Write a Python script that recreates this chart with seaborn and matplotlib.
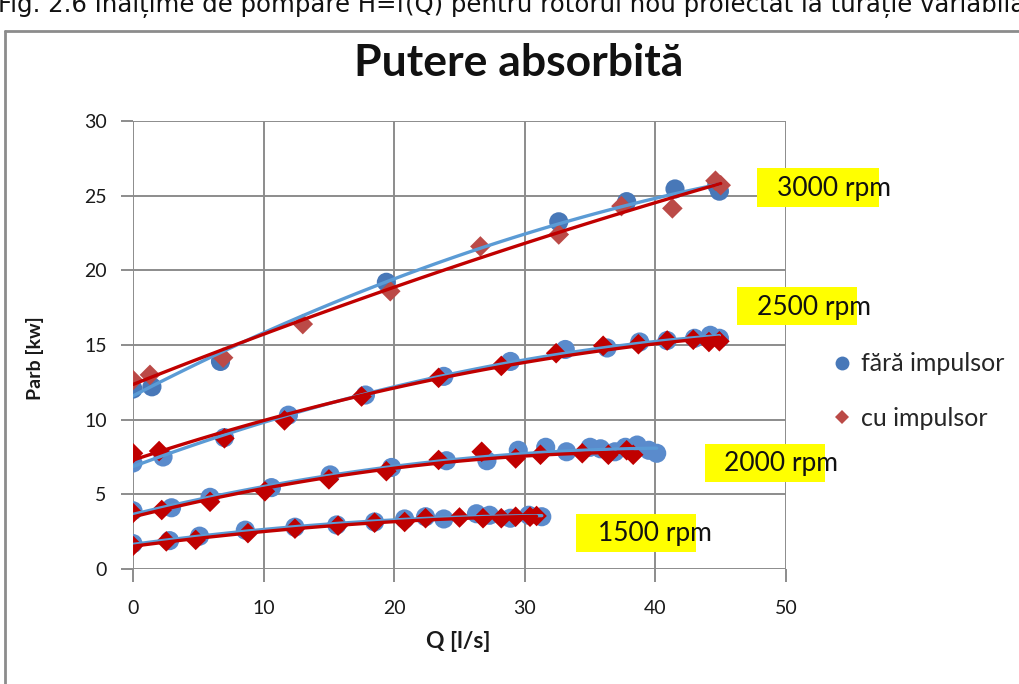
import numpy as np
import pandas as pd
import matplotlib
matplotlib.use("Agg")
import matplotlib.pyplot as plt
import seaborn as sns
from matplotlib.patches import Rectangle
from matplotlib.lines import Line2D

# ---------------- data ----------------
q3000_fara = [0, 1.45, 6.7, 19.4, 32.6, 37.8, 41.5, 44.7, 44.9]
p3000_fara = [12.05, 12.2, 13.9, 19.2, 23.25, 24.6, 25.45, 25.7, 25.3]
q3000_cu = [0, 1.3, 6.9, 13.0, 19.7, 26.6, 32.6, 37.4, 41.3, 44.6, 45.0]
p3000_cu = [12.65, 13.0, 14.15, 16.4, 18.6, 21.6, 22.4, 24.3, 24.15, 26.0, 25.7]

q2500_fara = [0, 2.3, 7.0, 11.9, 17.8, 23.8, 28.9, 33.1, 36.3, 38.8, 40.9, 43.0, 44.2, 44.9]
p2500_fara = [7.1, 7.5, 8.8, 10.3, 11.65, 12.9, 13.9, 14.7, 14.8, 15.2, 15.3, 15.45, 15.65, 15.45]
q2500_cu = [0, 2.0, 7.0, 11.6, 17.5, 23.4, 28.2, 32.4, 36.0, 38.7, 40.9, 42.9, 44.1, 44.9]
p2500_cu = [7.75, 7.9, 8.75, 9.95, 11.55, 12.8, 13.6, 14.45, 14.95, 15.05, 15.3, 15.35, 15.2, 15.25]

q2000_fara = [0, 2.95, 5.9, 10.6, 15.1, 19.8, 24.0, 27.1, 29.5, 31.6, 33.2, 35.0, 35.8, 36.9, 37.7, 38.6, 39.5, 40.1]
p2000_fara = [3.9, 4.1, 4.8, 5.45, 6.3, 6.8, 7.25, 7.25, 7.95, 8.15, 7.85, 8.15, 8.05, 7.85, 8.15, 8.3, 7.95, 7.75]
q2000_cu = [0, 2.2, 5.9, 10.1, 15.0, 19.4, 23.4, 26.7, 29.3, 31.2, 34.4, 36.4, 37.8, 38.3]
p2000_cu = [3.75, 3.95, 4.5, 5.2, 6.0, 6.55, 7.3, 7.85, 7.4, 7.65, 7.75, 7.65, 7.95, 7.65]

q1500_fara = [0, 2.8, 5.1, 8.6, 12.4, 15.6, 18.5, 20.8, 22.4, 23.8, 26.3, 27.3, 28.9, 30.3, 31.3]
p1500_fara = [1.7, 1.9, 2.2, 2.6, 2.8, 2.95, 3.15, 3.35, 3.5, 3.35, 3.7, 3.6, 3.4, 3.6, 3.5]
q1500_cu = [0, 2.55, 4.8, 8.8, 12.4, 15.7, 18.5, 20.8, 22.4, 25.0, 26.8, 28.2, 29.3, 30.4, 30.9]
p1500_cu = [1.55, 1.85, 1.95, 2.4, 2.7, 2.9, 3.1, 3.15, 3.4, 3.45, 3.4, 3.4, 3.5, 3.5, 3.55]

rpm_labels = ["3000 rpm", "2500 rpm", "2000 rpm", "1500 rpm"]
series_names = ["fără impulsor", "cu impulsor"]
x_ticks = [0, 10, 20, 30, 40, 50]
y_ticks = [0, 5, 10, 15, 20, 25, 30]
title = "Putere absorbită"
xlabel = "Q [l/s]"
ylabel = "Parb [kw]"
caption = "Fig. 2.6 Înălțime de pompare H=f(Q) pentru rotorul nou proiectat la turație variabilă"

# ---------------- styling ----------------
sns.set_theme(style="white")
plt.rcParams['font.family'] = ['Lato', 'DejaVu Sans']

W, H = 1020, 684
fig = plt.figure(figsize=(W / 100, H / 100), dpi=100)
ax = fig.add_axes([133 / W, (H - 569) / H, 653 / W, 448 / H])

grid_c = "#8c8c8c"
blue_m_top = "#4878b8"
red_m_top = "#bb4a47"
blue_m = "#5a8bcc"
red_m = "#c00000"
blue_line = "#5b9bd5"
red_line = "#c00000"

groups = [
    (q3000_fara, p3000_fara, q3000_cu, p3000_cu, blue_m_top, red_m_top),
    (q2500_fara, p2500_fara, q2500_cu, p2500_cu, blue_m, red_m),
    (q2000_fara, p2000_fara, q2000_cu, p2000_cu, blue_m, red_m),
    (q1500_fara, p1500_fara, q1500_cu, p1500_cu, blue_m, red_m),
]

for qf, pf, qc, pc, bc, rc in groups:
    df_f = pd.DataFrame({"Q": qf, "P": pf})
    df_c = pd.DataFrame({"Q": qc, "P": pc})
    sns.scatterplot(data=df_f, x="Q", y="P", ax=ax, marker="o", s=190,
                    color=bc, edgecolor="none", zorder=3)
    sns.scatterplot(data=df_c, x="Q", y="P", ax=ax, marker="D", s=110,
                    color=rc, edgecolor="none", zorder=4)
    sns.regplot(data=df_f, x="Q", y="P", ax=ax, order=2, ci=None, scatter=False,
                truncate=True, line_kws=dict(color=blue_line, lw=2.4, zorder=5))
    sns.regplot(data=df_c, x="Q", y="P", ax=ax, order=2, ci=None, scatter=False,
                truncate=True, line_kws=dict(color=red_line, lw=2.4, zorder=6))

ax.set_xlim(0, 50)
ax.set_ylim(0, 30)
ax.set_xticks(x_ticks)
ax.set_yticks(y_ticks)
ax.set_xticklabels([str(t) for t in x_ticks])
ax.set_yticklabels([str(t) for t in y_ticks])
ax.grid(True, color=grid_c, lw=1.4)
for s in ax.spines.values():
    s.set_visible(False)
ax.tick_params(axis="both", which="both", length=9, width=1.4, color=grid_c,
               labelsize=14, labelcolor="#1a1a1a", direction="out",
               bottom=True, left=True)
ax.tick_params(axis="x", pad=13)
ax.tick_params(axis="y", pad=10)
ax.set_xlabel("")
ax.set_ylabel("")

# axis labels / title
fig.text(458 / W, 1 - 641 / H, xlabel, ha="center", va="center",
         fontsize=16.5, fontweight="bold", color="#1a1a1a")
fig.text(35 / W, 1 - 358 / H, ylabel, ha="center", va="center", rotation=90,
         fontsize=14, fontweight="bold", color="#1a1a1a")
fig.text(519 / W, 1 - 63 / H, title, ha="center", va="center",
         fontsize=32, fontweight="bold", color="#111111")

# rpm labels with yellow boxes (box x0, y0, x1, y1 in pixels; text left x)
boxes = [(757, 168, 879, 207, 777), (737, 287, 857, 325, 757),
         (705, 444, 825, 482, 724), (576, 514, 696, 552, 598)]
for (x0, y0, x1, y1, tx), lab in zip(boxes, rpm_labels):
    fig.patches.append(Rectangle((x0 / W, 1 - y1 / H), (x1 - x0) / W, (y1 - y0) / H,
                                 transform=fig.transFigure, facecolor="#ffff00",
                                 edgecolor="none", zorder=1))
    fig.text(tx / W, 1 - ((y0 + y1) / 2 + 1) / H, lab, ha="left", va="center",
             fontsize=19, color="#111111", zorder=2)

# legend
handles = [Line2D([], [], marker="o", ls="none", color=blue_m_top, markersize=10,
                  markeredgewidth=0),
           Line2D([], [], marker="D", ls="none", color=red_m_top, markersize=7,
                  markeredgewidth=0)]
fig.legend(handles, series_names, loc="center left",
           bbox_to_anchor=(832 / W, 1 - 391 / H), frameon=False, fontsize=18,
           labelspacing=1.25, handlelength=0.8, handletextpad=0.35,
           borderaxespad=0, borderpad=0)

# chart frame
fig.add_artist(Line2D([5 / W, 5 / W], [0, 1 - 31 / H], transform=fig.transFigure,
                      color="#8c8c8c", lw=2))
fig.add_artist(Line2D([5 / W, 1], [1 - 31 / H, 1 - 31 / H], transform=fig.transFigure,
                      color="#8c8c8c", lw=2))

# caption at top, cut by the image edge as in the source
fig.text(-0.002, 1 - 12 / H, caption, ha="left", va="baseline", fontsize=17.6,
         family="DejaVu Sans", color="#111111")

fig.savefig("out.png", dpi=100)
